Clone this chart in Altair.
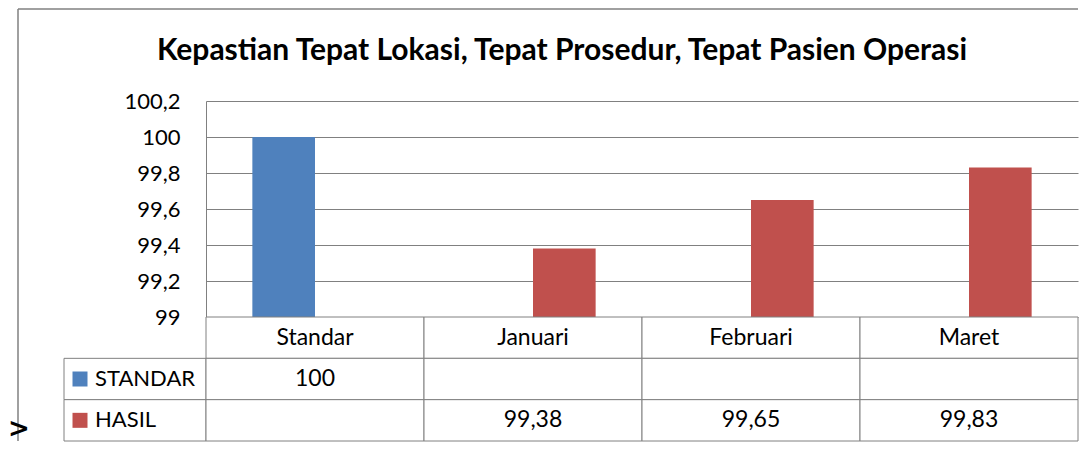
import altair as alt
import pandas as pd

# ---- data ----
title_text = "Kepastian Tepat Lokasi, Tepat Prosedur, Tepat Pasien Operasi"
categories = ["Standar", "Januari", "Februari", "Maret"]
series = ["STANDAR", "HASIL"]
standar_values = [100, None, None, None]
hasil_values = [None, 99.38, 99.65, 99.83]
y_ticks = [99, 99.2, 99.4, 99.6, 99.8, 100, 100.2]
colors = ["#4F81BD", "#C0504D"]
baseline = 99

# ---- styles ----
FONT = "Lato"
FS = 22
TFS = 23
GRID = "#808080"
LABEL_W = 142
PLOT_W = 872
PLOT_H = 216
TABLE_H = 124


def fmt(v):
    return f"{v:g}".replace(".", ",")


bar_rows = []
table_rows = []
for c in categories:
    table_rows.append({"cat": c, "row": "hdr", "text": c})
for s, vals in zip(series, [standar_values, hasil_values]):
    for c, v in zip(categories, vals):
        table_rows.append({"cat": c, "row": s, "text": "" if v is None else fmt(v)})
        if v is not None:
            bar_rows.append({"cat": c, "series": s, "value": v})
bars_df = pd.DataFrame(bar_rows)
table_df = pd.DataFrame(table_rows)
label_df = pd.DataFrame({"row": series, "series": series})
frame_df = pd.DataFrame({"k": [0]})

x_scale = alt.Scale(domain=categories, paddingInner=0, paddingOuter=0)
row_domain = ["hdr"] + series
row_scale = alt.Scale(domain=row_domain, paddingInner=0, paddingOuter=0)
color_scale = alt.Scale(domain=series, range=colors)

# ---- bar plot ----
plot = alt.Chart(bars_df).mark_bar().encode(
    x=alt.X("cat:N", scale=x_scale, axis=None),
    xOffset=alt.XOffset("series:N", scale=alt.Scale(domain=series, paddingInner=0, paddingOuter=0.74)),
    y=alt.Y(
        "value:Q",
        scale=alt.Scale(domain=[y_ticks[0], y_ticks[-1]], zero=False, nice=False),
        axis=alt.Axis(
            values=y_ticks,
            labelExpr="replace(toString(datum.value), '.', ',')",
            ticks=False,
            domainColor=GRID,
            gridColor=GRID,
            labelFont=FONT,
            labelFontSize=FS,
            labelColor="black",
            labelPadding=26,
            title=None,
        ),
    ),
    y2=alt.datum(baseline),
    color=alt.Color("series:N", scale=color_scale, legend=None),
).properties(
    width=PLOT_W,
    height=PLOT_H,
    title=alt.TitleParams(
        title_text, font=FONT, fontSize=30, fontWeight="bold", color="black",
        anchor="middle", dx=-80, offset=24,
    ),
)

# ---- frame / spacer ----
frame_left = alt.Chart(frame_df).mark_rule(color=GRID, strokeWidth=1.5).encode(
    x=alt.value(-46), y=alt.value(-92), y2=alt.value(340)
)
frame_top = alt.Chart(frame_df).mark_rule(color=GRID, strokeWidth=1.5).encode(
    y=alt.value(-92), x=alt.value(-46), x2=alt.value(LABEL_W + PLOT_W)
)
arrow = alt.Chart(frame_df).mark_text(
    text=">", font="DejaVu Sans", fontSize=26, fontWeight="bold", align="left", baseline="middle", color="black"
).encode(x=alt.value(-56), y=alt.value(328))
spacer = (frame_left + frame_top + arrow).properties(width=LABEL_W, height=PLOT_H)

# ---- label column ----
lab_base = alt.Chart(label_df).encode(y=alt.Y("row:N", scale=row_scale, axis=None))
lab_cells = lab_base.mark_rect(fill="white", stroke=GRID, strokeWidth=1).encode(
    x=alt.value(0), x2=alt.value(LABEL_W)
)
lab_keys = lab_base.mark_square(size=225, opacity=1, filled=True).encode(
    x=alt.value(16), color=alt.Color("series:N", scale=color_scale, legend=None)
)
lab_text = lab_base.mark_text(
    font=FONT, fontSize=FS, align="left", baseline="middle", color="black"
).encode(x=alt.value(31), text="series:N")
labels = (lab_cells + lab_keys + lab_text).properties(width=LABEL_W, height=TABLE_H)

# ---- data table ----
tbase = alt.Chart(table_df).encode(
    x=alt.X("cat:N", scale=x_scale, axis=None),
    y=alt.Y("row:N", scale=row_scale, axis=None),
)
cells = tbase.mark_rect(fill="white", stroke=GRID, strokeWidth=1)
ctext = tbase.mark_text(font=FONT, fontSize=TFS, color="black", baseline="middle").encode(text="text:N")
table = (cells + ctext).properties(width=PLOT_W, height=TABLE_H)

chart = alt.concat(
    spacer, plot, labels, table, columns=2, spacing=0, bounds="flush"
).properties(padding=0).configure_view(stroke=None)

chart.save("out.html", embed_options={"renderer": "svg", "actions": False})
